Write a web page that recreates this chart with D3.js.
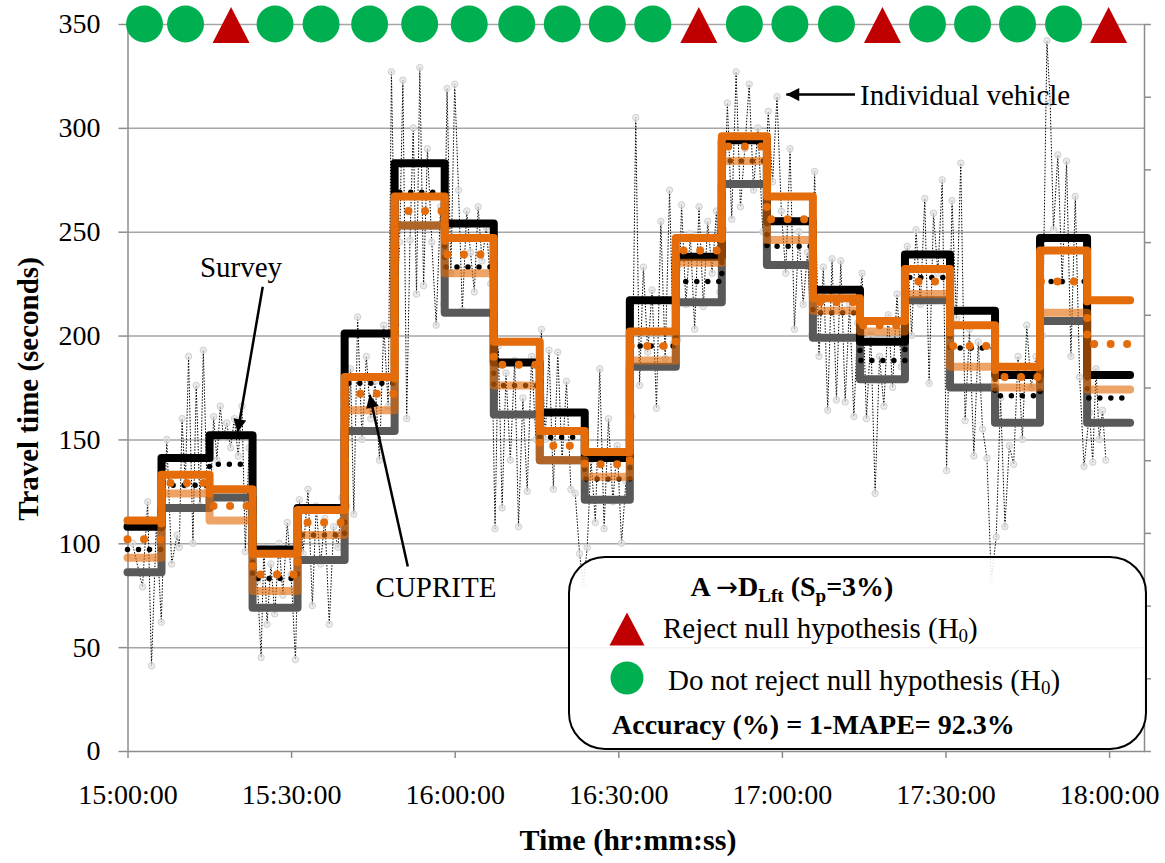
<!DOCTYPE html>
<html><head><meta charset="utf-8">
<script src="https://cdn.jsdelivr.net/npm/d3@7"></script>
<style>
body{margin:0;background:#fff}
svg{display:block}
text{font-family:"Liberation Serif","Times New Roman",serif;fill:#000}
</style>
</head><body>
<svg id="chart" width="1165" height="863"></svg>
<script>
// ---------------- DATA ----------------
const intervalBounds = ["15:00:00","15:06:14","15:15:03","15:22:56","15:31:11","15:39:49","15:48:59","15:58:10","16:07:10","16:15:36","16:23:51","16:32:07","16:40:33","16:48:59","16:57:15","17:05:41","17:14:19","17:22:34","17:30:50","17:39:05","17:47:20","17:55:58","18:03:51"];
const surveyUpper  = [108,141,152, 97,117,201,283,254,187,163,141,217,238,294,255,222,197,239,212,181,247,181];
const surveyMean   = [ 97,128,138, 83,104,177,269,233,176,151,131,195,226,284,243,211,188,228,194,171,226,170];
const surveyLower  = [ 86,117,122, 69, 92,154,253,211,162,140,121,185,216,273,234,199,179,217,175,158,207,158];
const cupriteUpper = [111,133,126, 95,116,180,267,247,197,154,144,202,247,296,267,218,207,232,205,185,241,217];
const cupriteMean  = [102,129,118, 85,110,172,260,239,186,147,138,195,241,291,256,216,205,226,195,180,226,196];
const cupriteLower = [ 93,124,111, 77,104,164,253,230,176,140,132,188,235,284,246,212,202,220,185,175,211,174];
const hypothesis = ["accept","accept","reject","accept","accept","accept","accept","accept","accept","accept","accept","accept","reject","accept","accept","accept","reject","accept","accept","accept","accept","reject"];

// individual vehicles: minutes after 15:00:00 and travel time (s)
const vehicleMinutes = [0.9,2.75,3.7,4.4,5.3,6.2, 7.2,8.1,9.1,9.5,10.0,10.6,11.2,12.0,12.6,13.3,13.9,14.6,
 15.2,15.8,16.4,17.0,17.6,18.2,18.9,19.6,20.3,21.0,21.6,22.3,
 23.1,23.8,24.5,25.0,25.6,26.3,27.0,27.8,28.5,29.3,30.0,30.8,
 31.5,32.2,33.1,33.9,34.6,35.4,36.2,37.0,37.8,38.6,39.3,
 40.2,40.9,41.5,42.2,43.0,43.8,44.6,45.4,46.2,47.0,47.8,48.4,
 49.2,49.9,50.5,51.2,51.8,52.4,53.0,53.6,54.3,55.0,55.8,56.6,57.4,58.0,
 58.6,59.3,60.0,60.7,61.4,62.2,62.9,63.6,64.3,65.0,65.8,66.6,
 67.4,68.0,68.7,69.4,70.2,71.0,71.7,72.5,73.3,74.1,74.9,
 75.9,76.6,77.3,78.1,78.9,79.7,80.5,81.3,82.1,82.9,83.6,
 84.3,85.0,85.8,86.6,87.4,88.2,89.0,89.8,90.6,91.4,
 92.5,93.2,93.9,94.6,95.4,96.2,97.0,97.8,98.6,99.4,100.1,
 100.9,101.6,102.4,103.2,104.0,104.8,105.6,106.4,107.2,108.0,108.6,
 109.3,110.0,110.8,111.6,112.4,113.2,114.0,114.8,115.6,116.5,
 117.5,118.3,119.1,119.9,120.7,121.5,122.3,123.1,123.9,124.7,125.4,
 126.0,126.8,127.6,128.4,129.2,130.0,130.8,131.6,132.4,133.2,133.9,
 134.7,135.5,136.3,137.1,137.9,138.7,139.5,140.3,141.1,141.9,
 143.0,143.8,144.6,145.4,146.2,147.0,147.8,148.6,149.4,150.2,
 151.2,152.0,152.8,153.6,154.4,155.2,156.0,156.8,157.6,158.4,
 159.3,160.1,160.9,161.7,162.5,163.3,164.1,164.9,165.7,166.6,
 167.8,168.6,169.2,169.8,170.6,171.4,172.2,173.0,173.8,174.6,175.4,
 176.4,177.0,177.6,178.2,178.8,179.4];
const vehicleTravel = [100,79,120,41,110,62, 150,90,104,98,160,128,190,100,176,118,193,126,
 120,161,140,166,151,158,146,160,142,166,96,146,
 105,82,45,98,61,90,66,100,75,110,85,44,
 121,95,126,70,118,90,112,61,108,98,122,
 118,184,114,209,150,190,160,178,140,205,166,327,
 205,245,323,160,246,300,220,329,224,290,245,205,262,215,
 319,230,321,270,212,260,240,221,262,236,252,225,
 107,195,117,182,140,188,108,170,125,190,150,
 203,150,193,126,192,140,178,126,124,95,80,
 98,140,110,184,107,160,120,147,100,130,
 161,305,176,233,192,222,165,255,189,270,196,
 198,263,215,249,203,262,214,255,230,260,221,
 251,312,256,327,262,290,321,270,300,250,
 308,274,315,260,230,290,203,250,215,240,200,
 279,190,233,164,237,169,236,168,215,161,206,
 230,160,200,124,190,166,210,175,220,185,
 243,200,251,215,266,177,259,230,275,135,
 265,208,283,159,203,142,197,155,141,82,
 103,170,108,147,138,190,150,205,175,190,
 200,342,312,251,287,226,284,190,267,180,137,
 163,139,184,150,164,140];

const yTickValues = [0,50,100,150,200,250,300,350];
const xTickLabels = ["15:00:00","15:30:00","16:00:00","16:30:00","17:00:00","17:30:00","18:00:00"];
const xDomain = ["15:00:00","18:06:24"];

// ---------------- SETUP ----------------
const parse = d3.timeParse("%H:%M:%S");
const fmt = d3.timeFormat("%H:%M:%S");
const t0 = parse("15:00:00");
const svg = d3.select("#chart");
const L = 127.5, R = 1144, T = 24, B = 751;

const x = d3.scaleTime().domain(xDomain.map(parse)).range([L, R]);
const y = d3.scaleLinear().domain([0, 350]).range([B, T]);
const yR = d3.scaleLinear().domain([0, 10]).range([B, T]);
const tMin = m => new Date(t0.getTime() + m * 60000);

const GRID = "#a6a6a6", AXIS = "#8c8c8c";

// gridlines
svg.append("g").attr("transform", `translate(${L},0)`)
  .call(d3.axisLeft(y).tickValues(yTickValues.filter(v => v > 0)).tickSize(-(R - L)).tickFormat(""))
  .call(g => g.select(".domain").remove())
  .call(g => g.selectAll("line").attr("stroke", GRID).attr("stroke-width", 1.5));

// left axis
svg.append("g").attr("transform", `translate(${L},0)`)
  .call(d3.axisLeft(y).tickValues(yTickValues).tickSize(9).tickSizeOuter(0).tickPadding(18))
  .call(g => g.select(".domain").attr("stroke", AXIS).attr("stroke-width", 1.5))
  .call(g => g.selectAll("line").attr("stroke", AXIS).attr("stroke-width", 1.5))
  .call(g => g.selectAll("text").attr("font-size", 28).attr("font-family", "Liberation Serif"));

// bottom axis
svg.append("g").attr("transform", `translate(0,${B})`)
  .call(d3.axisBottom(x).tickValues(xTickLabels.map(parse)).tickFormat(fmt).tickSize(7).tickSizeOuter(0).tickPadding(26))
  .call(g => g.select(".domain").attr("stroke", AXIS).attr("stroke-width", 1.5))
  .call(g => g.selectAll("line").attr("stroke", AXIS).attr("stroke-width", 1.5))
  .call(g => g.selectAll("text").attr("font-size", 28).attr("font-family", "Liberation Serif"));

// right (secondary) axis, no labels
svg.append("g").attr("transform", `translate(${R},0)`)
  .call(d3.axisRight(yR).tickValues(d3.range(0, 11)).tickFormat("").tickSize(7).tickSizeOuter(0))
  .call(g => g.select(".domain").attr("stroke", AXIS).attr("stroke-width", 1.5))
  .call(g => g.selectAll("line").attr("stroke", AXIS).attr("stroke-width", 1.5));

// ---------------- INDIVIDUAL VEHICLES ----------------
const veh = vehicleMinutes.map((m, i) => ({ t: tMin(m), v: vehicleTravel[i] }));
svg.append("path").datum(veh)
  .attr("d", d3.line().x(d => x(d.t)).y(d => y(d.v)))
  .attr("fill", "none").attr("stroke", "#000").attr("stroke-width", 1)
  .attr("stroke-dasharray", "1.5 1.5");
svg.append("g").selectAll("circle").data(veh).join("circle")
  .attr("cx", d => x(d.t)).attr("cy", d => y(d.v)).attr("r", 3.2)
  .attr("fill", "#e3e3e3").attr("fill-opacity", 0.7)
  .attr("stroke", "#d0d0d0").attr("stroke-width", 1);

// ---------------- STEP LINES ----------------
const bounds = intervalBounds.map(parse);
const stepLine = d3.line().curve(d3.curveStepAfter).x(d => x(d.t)).y(d => y(d.v));
function stepData(vals) {
  return bounds.map((b, i) => ({ t: b, v: vals[Math.min(i, vals.length - 1)] }));
}
function drawStep(vals, color, width, opts = {}) {
  const p = svg.append("path").datum(stepData(vals))
    .attr("d", stepLine).attr("fill", "none")
    .attr("stroke", color).attr("stroke-width", width)
    .attr("stroke-linejoin", "round").attr("stroke-linecap", "round");
  if (opts.dash) p.attr("stroke-dasharray", opts.dash);
  if (opts.opacity) p.attr("stroke-opacity", opts.opacity);
  return p;
}
const ORANGE = "#e46c0a";
drawStep(surveyLower, "#595959", 8);
drawStep(surveyUpper, "#000000", 8);
drawStep(surveyMean, "#000000", 5.5, { dash: "0 11" });
drawStep(cupriteUpper, ORANGE, 8);
drawStep(cupriteMean, ORANGE, 8, { dash: "0 16.5" });
drawStep(cupriteLower, ORANGE, 8, { opacity: 0.62 });

// ---------------- HYPOTHESIS MARKERS ----------------
const triPath = (w, h) => `M0,${-h / 2}L${w / 2},${h / 2}L${-w / 2},${h / 2}Z`;
const mk = svg.append("g");
hypothesis.forEach((h, i) => {
  const mid = new Date((bounds[i].getTime() + bounds[i + 1].getTime()) / 2);
  const cx = x(mid), cy = y(350);
  if (h === "reject") {
    mk.append("path").attr("d", triPath(37, 36)).attr("transform", `translate(${cx},${cy + 1})`).attr("fill", "#c00000");
  } else {
    mk.append("circle").attr("cx", cx).attr("cy", cy).attr("r", 18.5).attr("fill", "#00b050");
  }
});

// ---------------- ANNOTATIONS ----------------
const defs = svg.append("defs");
defs.append("marker").attr("id", "arr").attr("viewBox", "0 0 10 10")
  .attr("refX", 10).attr("refY", 5).attr("markerWidth", 14).attr("markerHeight", 13)
  .attr("markerUnits", "userSpaceOnUse").attr("orient", "auto")
  .append("path").attr("d", "M0,0L10,5L0,10Z").attr("fill", "#000");

function arrow(m1, v1, m2, v2) {
  svg.append("line").attr("x1", x(tMin(m1))).attr("y1", y(v1))
    .attr("x2", x(tMin(m2))).attr("y2", y(v2))
    .attr("stroke", "#000").attr("stroke-width", 2.5).attr("marker-end", "url(#arr)");
}
arrow(24.8, 223.5, 20.2, 153.5);   // Survey
arrow(51.4, 88.8, 44.4, 171.5);    // CUPRITE
arrow(133.4, 316, 120.8, 316);     // Individual vehicle

svg.append("text").attr("x", 241).attr("y", 277).attr("text-anchor", "middle").attr("font-size", 29).text("Survey");
svg.append("text").attr("x", 436).attr("y", 597).attr("text-anchor", "middle").attr("font-size", 29).text("CUPRITE");
svg.append("text").attr("x", 860).attr("y", 105).attr("font-size", 29).text("Individual vehicle");

// ---------------- AXIS TITLES ----------------
svg.append("text").attr("transform", "translate(38,389) rotate(-90)")
  .attr("text-anchor", "middle").attr("font-size", 29).attr("font-weight", "bold")
  .text("Travel time (seconds)");
svg.append("text").attr("x", 628).attr("y", 850).attr("text-anchor", "middle")
  .attr("font-size", 30).attr("font-weight", "bold").text("Time (hr:mm:ss)");

// ---------------- LEGEND BOX ----------------
const lg = svg.append("g");
lg.append("rect").attr("x", 569).attr("y", 557).attr("width", 577).attr("height", 192)
  .attr("rx", 36).attr("ry", 36).attr("fill", "#fff").attr("fill-opacity", 0.88)
  .attr("stroke", "#000").attr("stroke-width", 2);

const title = lg.append("text").attr("x", 792).attr("y", 596).attr("text-anchor", "middle")
  .attr("font-size", 28).attr("font-weight", "bold");
title.append("tspan").text("A ");
title.append("tspan").attr("font-family", "DejaVu Sans").attr("font-weight", "normal").attr("font-size", 26).text("\u2192");
title.append("tspan").text("D");
title.append("tspan").attr("font-size", 19).attr("dy", 6).text("Lft");
title.append("tspan").attr("dy", -6).text(" (S");
title.append("tspan").attr("font-size", 19).attr("dy", 6).text("p");
title.append("tspan").attr("dy", -6).text("=3%)");

lg.append("path").attr("d", triPath(35, 33)).attr("transform", "translate(627,629)").attr("fill", "#c00000");
const t1 = lg.append("text").attr("x", 663).attr("y", 638).attr("font-size", 29);
t1.append("tspan").text("Reject null hypothesis (H");
t1.append("tspan").attr("font-size", 19).attr("dy", 4).text("0");
t1.append("tspan").attr("dy", -4).text(")");

lg.append("circle").attr("cx", 627).attr("cy", 678).attr("r", 16.5).attr("fill", "#00b050");
const t2 = lg.append("text").attr("x", 668).attr("y", 690).attr("font-size", 29);
t2.append("tspan").text("Do not reject null hypothesis (H");
t2.append("tspan").attr("font-size", 19).attr("dy", 4).text("0");
t2.append("tspan").attr("dy", -4).text(")");

lg.append("text").attr("x", 612).attr("y", 734).attr("font-size", 28).attr("font-weight", "bold")
  .text("Accuracy (%) = 1-MAPE= 92.3%");
</script>
</body></html>
